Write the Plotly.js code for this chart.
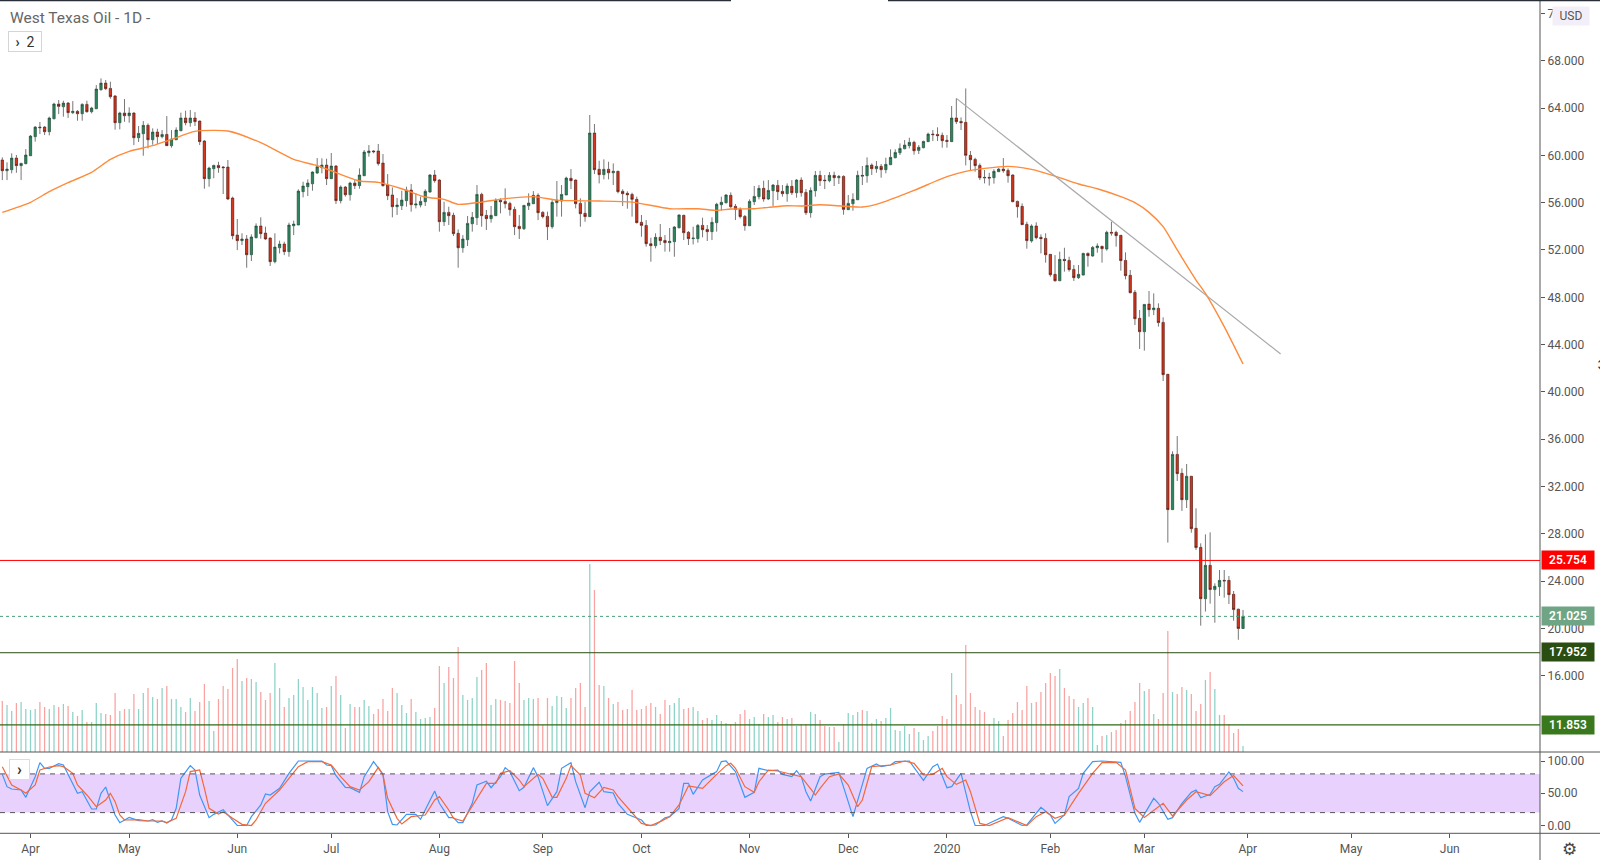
<!DOCTYPE html>
<html>
<head>
<meta charset="utf-8">
<script src="https://cdn.plot.ly/plotly-3.0.1.min.js"></script>
<style>
  html, body { margin: 0; padding: 0; background: #fff; }
  #chart { width: 1600px; height: 860px; }
</style>
</head>
<body>
<div id="chart"></div>
<script>
// daily candles, first bar is 22 Mar 2019
const opens = [
  59.61,58.70,58.79,59.77,59.13,59.30,59.97,61.58,62.39,62.39,
  62.00,63.10,64.34,64.11,64.42,63.61,63.72,63.52,64.31,63.69,
  63.94,65.55,66.11,65.66,65.02,62.76,63.58,63.35,63.58,61.49,
  61.83,62.54,61.32,61.97,61.58,61.77,60.82,61.32,62.08,63.16,
  62.76,63.16,62.90,61.21,58.03,58.87,59.15,59.01,59.01,56.39,
  53.26,52.79,52.93,51.60,53.04,54.03,53.43,53.01,51.01,52.19,
  52.50,51.86,54.05,54.11,56.93,57.35,57.60,58.51,58.96,59.18,
  58.03,59.10,56.17,57.32,56.67,57.66,57.44,58.28,60.22,60.37,
  60.37,59.35,57.49,56.65,55.66,55.74,56.17,57.07,55.80,55.80,
  56.08,56.90,58.34,57.91,54.39,55.18,54.93,53.41,52.19,52.87,
  54.22,54.73,56.70,54.93,54.65,54.90,56.20,56.11,55.94,55.43,
  54.00,53.80,55.74,55.91,56.62,55.18,54.84,53.97,56.00,56.14,
  56.65,58.06,57.91,55.94,55.10,54.82,61.89,58.82,58.37,58.82,
  58.53,58.65,56.96,56.79,56.70,56.28,54.34,54.08,52.53,52.36,
  53.07,52.81,52.62,52.70,53.88,54.93,53.49,52.96,52.96,54.08,
  53.74,53.55,54.31,55.83,55.99,56.62,55.69,55.43,54.84,54.05,
  56.08,56.51,57.21,56.31,57.01,57.46,56.96,56.76,57.38,56.84,
  57.91,56.87,55.15,57.01,58.31,57.91,57.86,58.31,58.11,58.22,
  55.41,55.91,56.25,58.31,58.28,59.18,58.87,59.07,58.79,59.21,
  59.80,60.22,60.56,60.82,61.10,60.42,60.65,61.16,61.80,61.77,
  61.69,61.27,61.16,63.16,62.87,62.79,60.00,59.66,59.15,58.14,
  58.14,58.11,58.62,58.84,58.73,58.34,56.11,55.69,54.17,52.76,
  54.03,53.07,52.98,51.63,49.94,49.40,51.21,51.12,50.36,49.66,
  49.88,51.71,51.49,52.19,52.31,52.08,53.49,53.49,53.24,51.12,
  49.86,48.42,46.22,45.09,47.43,46.95,47.07,45.88,41.49,30.05,
  34.72,33.12,30.89,32.87,28.47,26.86,22.52,25.34,23.29,23.54,
  24.07,24.07,22.89,21.63,20.00
]
const highs = [
  59.83,59.41,60.17,60.03,59.38,60.53,61.72,62.48,62.82,62.48,
  63.27,64.45,64.68,64.62,64.51,64.59,63.83,64.40,64.62,64.11,
  65.94,66.51,66.37,66.23,65.10,63.69,64.76,64.06,63.63,62.48,
  62.90,62.70,62.28,62.25,62.14,63.32,62.14,62.37,63.61,63.78,
  63.83,63.66,62.93,61.30,59.04,59.21,59.46,59.10,59.61,56.51,
  54.62,53.41,53.26,53.32,54.25,54.76,53.97,53.07,53.41,52.79,
  52.70,54.31,54.48,57.13,57.77,57.97,58.65,59.77,59.75,59.72,
  60.20,59.18,57.46,57.41,57.77,57.91,58.90,60.45,60.87,60.45,
  60.96,60.11,58.42,57.29,56.39,57.01,57.35,57.58,56.79,56.51,
  57.13,58.42,58.76,58.00,56.08,55.66,55.15,53.74,53.26,54.87,
  55.21,57.49,56.84,55.38,55.72,56.37,56.37,57.21,56.08,55.66,
  54.96,55.80,56.79,56.98,56.79,55.29,55.24,56.22,57.83,57.49,
  58.20,58.84,57.97,56.37,56.08,63.41,62.65,59.55,59.66,59.46,
  59.32,58.70,57.13,56.96,56.84,56.51,54.96,54.53,53.04,53.41,
  54.20,53.26,53.86,54.03,55.01,54.98,53.60,53.97,54.20,54.73,
  54.11,54.76,55.99,56.51,56.73,56.87,55.89,55.60,54.96,56.28,
  57.41,57.49,57.86,57.91,57.58,57.91,57.49,57.63,57.91,58.00,
  58.14,57.15,57.29,58.68,58.70,58.34,58.59,58.62,58.34,58.31,
  56.65,56.79,58.70,59.10,59.83,59.32,59.52,59.27,59.80,60.51,
  60.51,61.01,61.30,61.49,61.24,60.87,61.24,61.92,62.14,62.37,
  61.92,61.72,64.17,64.82,63.21,65.66,60.37,59.80,59.32,58.76,
  58.53,58.82,58.96,59.77,58.90,58.39,56.17,55.94,54.39,54.17,
  54.34,53.32,53.41,51.66,51.57,51.86,52.19,51.43,50.73,50.73,
  51.77,51.80,52.34,52.56,52.36,53.63,54.39,53.63,53.27,51.80,
  50.31,48.62,46.93,47.40,48.53,48.33,47.49,46.31,41.49,34.98,
  36.27,33.54,33.91,32.87,30.16,27.20,27.96,28.13,23.82,24.95,
  24.95,24.44,23.17,21.68,21.57
]
const lows = [
  57.91,57.91,58.48,58.53,57.91,59.24,59.97,61.16,61.80,61.72,
  61.69,63.04,63.49,63.27,63.16,63.49,62.93,62.93,63.61,63.55,
  63.94,65.47,65.52,64.79,62.17,62.20,62.84,62.76,60.87,61.13,
  59.97,60.59,60.90,60.96,61.44,60.79,60.65,61.30,62.06,62.54,
  62.42,62.48,60.87,57.18,57.35,58.06,58.53,56.73,56.22,52.90,
  51.99,52.42,50.50,51.07,52.98,52.96,52.84,50.65,50.87,51.71,
  51.57,51.43,53.26,54.11,56.45,56.56,57.01,58.42,58.48,57.49,
  58.00,55.89,55.94,56.51,56.17,57.15,57.18,58.25,59.89,60.17,
  59.13,57.35,56.22,54.76,54.96,55.38,55.66,55.24,55.52,55.60,
  55.72,56.84,57.69,53.55,54.03,54.11,53.18,50.50,51.77,52.34,
  53.55,54.11,53.97,53.69,54.31,54.87,55.10,55.52,54.90,53.26,
  52.93,53.69,55.38,55.89,54.53,54.67,52.84,53.80,54.82,54.82,
  56.65,57.15,55.52,53.97,54.39,54.82,58.42,57.63,57.97,57.97,
  57.49,56.79,55.72,55.49,54.82,54.25,53.12,52.28,51.01,52.14,
  52.42,51.86,51.86,51.43,53.83,52.84,52.42,52.47,52.62,53.07,
  52.76,52.84,53.55,55.32,55.94,55.52,54.53,54.67,53.63,54.03,
  55.80,56.28,56.08,56.22,55.72,56.22,56.51,56.08,56.65,56.42,
  56.51,54.96,54.73,56.51,57.41,57.15,57.72,57.41,57.58,54.98,
  55.38,55.32,56.22,57.49,57.69,58.34,58.53,58.11,58.48,59.18,
  59.75,60.03,60.51,60.59,60.06,60.11,60.59,61.13,61.21,61.21,
  60.65,60.65,61.16,62.65,62.14,59.15,58.68,58.62,57.91,57.63,
  57.44,57.61,58.62,58.53,57.69,56.05,54.73,54.11,52.11,52.62,
  52.90,51.71,50.93,49.74,49.32,49.38,50.17,50.17,49.38,49.55,
  49.86,50.59,51.43,51.77,50.93,51.94,53.21,52.28,50.25,49.52,
  48.33,45.66,43.63,43.49,46.36,46.50,45.52,40.92,27.26,30.02,
  32.47,29.94,30.19,28.10,26.64,20.24,21.43,22.10,20.49,22.75,
  22.61,22.07,20.66,19.05,20.00
]
const closes = [
  58.70,58.84,59.77,59.13,59.32,60.03,61.63,62.39,62.34,62.00,
  63.16,64.34,64.14,64.42,63.61,63.72,63.52,64.31,63.69,64.00,
  65.61,66.11,65.64,64.96,62.76,63.58,63.35,63.58,61.49,61.86,
  62.54,61.32,61.97,61.58,61.77,60.82,61.38,62.14,63.16,62.76,
  63.16,62.85,61.16,58.03,58.93,59.15,58.96,58.96,56.31,53.21,
  52.79,52.93,51.60,53.10,54.03,53.38,52.93,51.01,52.25,52.50,
  51.86,54.11,54.19,56.98,57.41,57.66,58.59,59.04,59.18,58.03,
  59.10,56.17,57.32,56.67,57.66,57.44,58.34,60.28,60.37,60.31,
  59.30,57.44,56.59,55.66,55.80,56.22,57.07,55.83,55.89,56.11,
  56.96,58.34,57.86,54.39,55.18,54.90,53.38,52.19,52.93,54.25,
  54.76,56.70,54.90,54.65,54.93,56.20,56.08,55.91,55.41,53.97,
  53.80,55.77,55.97,56.62,55.15,54.82,53.97,56.03,56.22,56.70,
  58.08,57.86,55.91,55.07,54.82,61.89,58.79,58.37,58.82,58.53,
  58.65,56.93,56.76,56.67,56.28,54.31,54.08,52.53,52.36,53.07,
  52.79,52.62,52.73,53.94,54.96,53.46,52.96,53.01,54.08,53.72,
  53.55,54.34,55.86,56.03,56.65,55.66,55.43,54.82,54.05,56.11,
  56.53,57.21,56.31,57.04,57.49,56.93,56.76,57.41,56.84,57.91,
  56.84,55.15,57.04,58.31,57.86,57.86,58.31,58.11,58.22,55.43,
  55.94,56.28,58.31,58.25,59.15,58.87,59.07,58.79,59.24,59.83,
  60.25,60.59,60.87,61.10,60.39,60.68,61.18,61.80,61.75,61.66,
  61.24,61.18,63.16,62.85,62.76,60.00,59.63,59.13,58.11,58.11,
  58.08,58.65,58.84,58.70,58.28,56.08,55.66,54.14,52.79,54.03,
  53.04,52.96,51.60,49.91,49.40,51.21,51.10,50.34,49.66,49.94,
  51.71,51.52,52.22,52.34,52.11,53.49,53.43,53.21,51.10,49.83,
  48.39,46.19,45.09,47.40,46.95,47.09,45.86,41.46,30.05,34.72,
  33.09,30.89,32.87,28.44,26.84,22.52,25.34,23.29,23.57,24.07,
  24.02,22.86,21.60,20.00,21.03
]
const volumes = [
  51,47,41,49,50,43,42,43,50,45,43,47,45,48,46,40,36,42,30,30,
  49,39,38,37,59,41,43,43,58,43,59,64,55,53,64,66,53,53,45,40,
  54,41,50,68,51,21,53,66,63,84,93,71,74,73,70,60,52,59,89,64,
  45,54,57,73,65,52,65,59,44,45,66,76,57,24,48,45,45,52,46,38,
  43,53,41,64,59,47,39,53,40,33,34,35,44,86,69,85,74,105,57,52,
  54,75,82,89,47,53,52,51,49,91,69,52,54,53,54,27,54,46,56,55,
  44,54,64,69,45,188,162,67,66,54,48,50,42,43,62,42,43,46,49,45,
  38,52,47,49,54,43,44,45,41,32,34,32,37,31,29,28,30,38,42,33,
  35,28,38,35,37,30,35,33,34,26,28,28,40,38,32,26,25,25,10,28,
  39,37,40,42,41,29,33,31,34,44,22,21,26,18,24,20,12,16,21,26,
  36,33,79,57,48,107,59,45,42,40,28,34,31,16,32,39,50,42,66,49,
  50,60,69,79,76,83,64,56,53,45,49,54,45,7,16,17,20,22,29,32,
  41,50,69,61,63,38,33,59,121,60,58,65,62,58,41,48,72,80,63,37,
  37,28,19,23,6
]

// 100 day average, sampled where it bends
const maBars = [0,6,10,14,19,23,27,32,36,41,48,55,62,67,70,76,80,85,90,94,97,102,107,113,118,121,127,134,142,148,152,155,160,163,167,170,174,183,187,194,201,205,209,214,219,224,229,233,238,241,244,247,250,254,256,260,264]
const maValues = [55.18,56.03,56.93,57.69,58.56,59.66,60.34,60.82,61.35,62.03,62.06,61.07,59.66,59.13,58.70,57.83,57.72,57.18,56.48,56.28,55.86,56.05,56.34,56.51,56.22,56.17,56.14,56.05,55.49,55.49,55.35,55.46,55.49,55.60,55.74,55.72,55.83,55.63,55.99,57.04,58.20,58.65,58.90,59.07,58.82,58.25,57.58,57.18,56.51,56.00,55.18,53.97,52.00,49.46,48.33,45.52,42.36]

// stochastic lines, sampled at their turning points
const kBars = [0,1,2,4,5,7,8,9,10,12,13,14,16,17,19,20,21,22,23,24,25,26,27,29,31,32,33,34,35,36,37,38,40,41,42,44,45,47,48,50,52,53,55,56,57,59,61,63,65,68,69,70,71,73,74,76,77,79,81,82,83,84,86,88,89,91,92,93,95,96,97,98,100,101,103,104,106,107,108,110,111,113,114,116,118,119,121,122,124,125,127,128,130,131,133,136,137,139,141,142,144,145,146,147,149,152,153,154,156,158,160,161,163,165,166,168,169,170,171,172,174,175,178,181,184,186,187,189,190,193,195,196,198,199,201,202,204,206,207,209,211,213,214,217,218,221,223,224,226,227,229,230,232,234,238,239,241,242,245,246,248,249,251,253,254,255,257,258,259,261,262,263,264]
const kValues = [79.3,60.2,56.6,55.0,43.7,75.7,97.4,88.6,88.6,95.9,93.8,79.3,49.9,52.4,25.6,25.6,49.9,59.7,39.5,16.3,4.4,8.0,12.6,7.5,7.0,9.0,4.9,7.0,3.9,8.5,26.6,73.1,92.8,86.0,47.3,12.1,17.3,24.5,16.3,0,0,13.7,31.8,48.8,47.3,57.6,80.9,100,100,100,93.8,92.8,77.2,59.2,58.6,51.4,75.7,99,79.3,21.4,1.8,0.8,17.3,17.3,9.6,39.5,53.5,34.4,12.1,12.1,4.4,4.4,34.4,62.8,68.5,58.6,75.7,89.7,83.5,54.0,59.2,89.7,75.7,30.7,52.4,88.6,97.4,67.9,27.6,52.4,66.9,52.4,50.4,34.4,17.3,8.5,0,0.8,12.1,13.7,26.6,65.4,65.4,48.3,70.5,83.5,99,100,83.5,43.7,51.4,88.6,85,86,79.3,75.7,85,75.7,52.4,38,75.7,79.8,82.4,13.7,88.6,95.3,91.2,93.8,99,100,80.9,70,91.2,95.3,58.6,60.2,80.9,21.4,0,0,7,13.7,11.1,0,0.8,28.2,16.3,3.3,16.3,44.7,57.6,80.9,99,100,97.9,75.7,18.8,4.9,42.1,34.4,9.6,12.1,34.4,51.4,55,43.1,48.3,60.2,63.8,83,73.1,57.6,52.5]
const dBars = [0,2,4,5,7,8,10,12,13,15,16,18,20,22,23,24,25,26,29,31,34,35,37,39,40,42,43,44,46,47,49,51,53,54,56,58,59,61,63,65,68,70,72,74,76,78,80,81,82,84,85,87,90,92,93,95,96,98,99,102,103,105,106,108,110,111,114,115,117,118,120,121,123,124,126,128,130,131,134,136,138,140,142,144,146,149,152,154,155,156,158,160,161,163,165,168,170,173,174,176,178,180,182,183,185,189,192,194,196,198,200,201,203,205,206,208,210,214,218,220,222,224,226,229,232,234,237,239,241,243,245,247,249,252,254,257,260,262,264]
const dValues = [91.2,62.8,55,49.9,62.8,86,90.7,92.8,91.2,80.9,62.8,47.3,29.2,39.5,49.9,37,16.3,8.5,9,7,7,4.4,11.1,52.4,83.5,86,57.6,26.6,17.8,21.4,11.1,1.8,0,8.5,34.4,48.3,55,73.1,91.2,99,99,93.8,75.7,60.2,55,67.9,90.2,78.3,42.1,11.1,2.3,13.7,16.3,39.5,44.7,24,11.1,7,18.8,55,65.4,65.4,80.9,85,70.5,60.2,79.3,73.1,43.7,43.7,73.1,92.8,78.3,49.9,43.1,59.2,55,44.7,18.8,3.3,0,6,13.7,31.8,61.2,57.6,79.3,92.8,96.4,88.6,60.2,51.4,67.9,86,84.5,79.3,75.7,47.3,57.6,75.7,79.8,62.8,29.2,39.5,91.2,93.8,100,96.4,78.3,79.3,88.6,75.7,63.8,70.5,52.4,3.3,0,12.1,0,13.7,21.4,11.1,16.3,49.9,80.9,97.4,97.9,86,26.6,12.6,24,34.4,14.7,39.5,52.4,46.2,67.9,77.5,61.3]

// price levels
const levels = [25.754, 21.025, 17.952, 11.853]
const levelColors = ['#ff0000', '#4f9f7a', '#2a4d12', '#2f6a17']
const levelBoxes = ['#ff0000', '#6fa585', '#2a4d12', '#3a781e']

const priceTicks = [16,20,24,28,32,36,40,44,48,52,56,60,64,68,72]
const stochTicks = [0, 50, 100]
const monthDates = ['2019-04-01','2019-05-01','2019-06-03','2019-07-01','2019-08-01','2019-09-02','2019-10-01','2019-11-01','2019-12-02','2020-01-02','2020-02-03','2020-03-02','2020-04-01','2020-05-01','2020-06-01']
const monthLabels = ['Apr','May','Jun','Jul','Aug','Sep','Oct','Nov','Dec','2020','Feb','Mar','Apr','May','Jun']
const holidays = ['2019-04-19','2019-12-25','2020-01-01']

// bars sit at noon so that no bar runs into a weekend gap
let dates = []
for (let d = new Date(Date.UTC(2019, 2, 22)); dates.length < opens.length; d.setUTCDate(d.getUTCDate() + 1)) {
    const day = d.toISOString().slice(0, 10)
    if (d.getUTCDay() == 0 || d.getUTCDay() == 6 || holidays.includes(day)) continue
    dates.push(day + ' 12:00')
}

// grey wicks are a separate trace, the candlestick only draws the bodies
let wickX = [], wickY = []
dates.forEach((d, i) => {
    wickX.push(d, d, null, d, d, null)
    wickY.push(highs[i], Math.max(opens[i], closes[i]), null, Math.min(opens[i], closes[i]), lows[i], null)
})

const FONT = 'Roboto, Arial, sans-serif'
const H = 860, W = 1600
const px = x => x / W
const py = y => 1 - y / H

let data = [
    {
        x: dates,
        y: volumes,
        type: 'bar',
        yaxis: 'y3',
        width: 0.27 * 86400000,
        marker: {color: opens.map((o, i) => closes[i] >= o ? '#8dd3c7' : '#f9a3a1')},
        hoverinfo: 'skip'
    },
    {
        x: dates,
        open: opens,
        high: opens.map((o, i) => Math.max(o, closes[i])),
        low: opens.map((o, i) => Math.min(o, closes[i])),
        close: closes,
        type: 'candlestick',
        width: 0.6 * 86400000,
        whiskerwidth: 0,
        increasing: {fillcolor: '#2f8560', line: {color: '#1d4a35', width: 0.7}},
        decreasing: {fillcolor: '#d2371f', line: {color: '#55170f', width: 0.7}},
        hoverinfo: 'skip'
    },
    {
        x: wickX,
        y: wickY,
        type: 'scatter',
        mode: 'lines',
        line: {color: '#777777', width: 1},
        hoverinfo: 'skip'
    },
    {
        x: maBars.map(i => dates[i]),
        y: maValues,
        type: 'scatter',
        mode: 'lines',
        line: {color: '#ff8a3a', width: 1.4, shape: 'spline', smoothing: 0.6},
        hoverinfo: 'skip'
    },
    {
        x: [dates[203], '2020-04-10 12:00'],
        y: [64.82, 43.21],
        type: 'scatter',
        mode: 'lines',
        line: {color: '#a9a9a9', width: 1.2},
        hoverinfo: 'skip'
    },
    {
        x: kBars.map(i => dates[i]),
        y: kValues,
        type: 'scatter',
        mode: 'lines',
        yaxis: 'y2',
        line: {color: '#3f97f5', width: 1.2},
        hoverinfo: 'skip'
    },
    {
        x: dBars.map(i => dates[i]),
        y: dValues,
        type: 'scatter',
        mode: 'lines',
        yaxis: 'y2',
        line: {color: '#f3683a', width: 1.2},
        hoverinfo: 'skip'
    }
]

let shapes = [
    {type: 'rect', xref: 'x domain', yref: 'y2', x0: 0, x1: 1, y0: 20, y1: 80, fillcolor: '#e9d1fd', line: {width: 0}, layer: 'below'},
    {type: 'line', xref: 'x domain', yref: 'y2', x0: 0, x1: 1, y0: 80, y1: 80, line: {color: '#555', width: 1, dash: '5px,5px'}},
    {type: 'line', xref: 'x domain', yref: 'y2', x0: 0, x1: 1, y0: 20, y1: 20, line: {color: '#555', width: 1, dash: '5px,5px'}},
    // frame lines
    {type: 'line', xref: 'paper', yref: 'paper', x0: 0, x1: 1, y0: py(752), y1: py(752), line: {color: '#555', width: 1}},
    {type: 'line', xref: 'paper', yref: 'paper', x0: 0, x1: 1, y0: py(833.3), y1: py(833.3), line: {color: '#555', width: 1}},
    {type: 'line', xref: 'paper', yref: 'paper', x0: px(1540), x1: px(1540), y0: 0, y1: 1, line: {color: '#555', width: 1}},
    {type: 'line', xref: 'paper', yref: 'paper', x0: 0, x1: px(731), y0: py(0.5), y1: py(0.5), line: {color: '#2a2e39', width: 1.5}},
    {type: 'line', xref: 'paper', yref: 'paper', x0: px(888), x1: 1, y0: py(0.5), y1: py(0.5), line: {color: '#2a2e39', width: 1.5}}
]
levels.forEach((v, i) => {
    shapes.push({
        type: 'line', xref: 'x domain', yref: 'y', x0: 0, x1: 1, y0: v, y1: v,
        line: {color: levelColors[i], width: i == 3 ? 1.2 : 1, dash: i == 1 ? 'dot' : 'solid'}
    })
})

const label = (text, x, y, opts) => Object.assign({
    text: text, xref: 'paper', yref: 'paper', x: px(x), y: py(y),
    xanchor: 'left', yanchor: 'middle', showarrow: false,
    font: {family: FONT, size: 12, color: '#555'}
}, opts)

let annotations = [
    label('West Texas Oil - 1D -', 8, 17.5, {font: {family: FONT, size: 15.5, color: '#666'}}),
    label('<b>›</b>  2', 8, 41, {
        width: 32, height: 19, align: 'center', bordercolor: '#d5d5d5', borderwidth: 1, borderpad: 0,
        font: {family: FONT, size: 14, color: '#333'}
    }),
    label('<b>›</b>', 9, 769, {
        width: 19, height: 19, align: 'center', bordercolor: '#dcdcdc', borderwidth: 1, borderpad: 0,
        bgcolor: '#ffffff', font: {family: FONT, size: 16, color: '#333'}
    }),
    label('USD', 1552, 16, {width: 36, height: 18, align: 'center', borderpad: 0, bgcolor: '#f3eff8', font: {family: FONT, size: 12, color: '#555'}}),
    label('⚙', 1560, 849, {font: {family: 'DejaVu Sans', size: 17, color: '#444'}}),
    label('↕', 1593, 365, {font: {family: 'DejaVu Sans', size: 15, color: '#333'}})
]
levels.forEach((v, i) => {
    annotations.push(label(v.toFixed(3), 1540.5, [560, 616, 652.3, 725][i], {
        width: 52, height: 18, align: 'center', borderpad: 0, bgcolor: levelBoxes[i],
        font: {family: FONT, size: 12, color: '#fff', weight: 600}
    }))
})

let layout = {
    width: W,
    height: H,
    margin: {l: 0, r: 0, t: 0, b: 0},
    paper_bgcolor: '#ffffff',
    plot_bgcolor: '#ffffff',
    showlegend: false,
    xaxis: {
        type: 'date',
        domain: [0, px(1540)],
        anchor: 'y2',
        range: ['2019-03-22 00:16', '2020-06-26 16:34'],
        rangebreaks: [{bounds: ['sat', 'mon']}, {values: holidays}],
        rangeslider: {visible: false},
        tickvals: monthDates.map(d => d + ' 12:00'),
        ticktext: monthLabels,
        ticks: 'outside',
        ticklen: 4,
        tickcolor: '#555',
        showgrid: false,
        zeroline: false,
        showline: false,
        tickfont: {family: FONT, size: 12, color: '#555'}
    },
    yaxis: {
        domain: [py(752), py(1)],
        range: [9.56, 73.05],
        side: 'right',
        anchor: 'x',
        tickvals: priceTicks,
        ticktext: priceTicks.map(v => v.toFixed(3)),
        ticks: 'outside',
        ticklen: 4,
        tickcolor: '#555',
        showgrid: false,
        zeroline: false,
        tickfont: {family: FONT, size: 12, color: '#555'}
    },
    yaxis2: {
        domain: [py(833.3), py(752)],
        range: [-12.1, 113.95],
        side: 'right',
        anchor: 'x',
        tickvals: stochTicks,
        ticktext: stochTicks.map(v => v.toFixed(2)),
        ticks: 'outside',
        ticklen: 4,
        tickcolor: '#555',
        showgrid: false,
        zeroline: false,
        tickfont: {family: FONT, size: 12, color: '#555'}
    },
    yaxis3: {
        overlaying: 'y',
        range: [0, 751],
        showticklabels: false,
        showgrid: false,
        zeroline: false,
        ticks: ''
    },
    shapes: shapes,
    annotations: annotations
}

Plotly.newPlot('chart', data, layout, {staticPlot: true, displayModeBar: false})
</script>
</body>
</html>
